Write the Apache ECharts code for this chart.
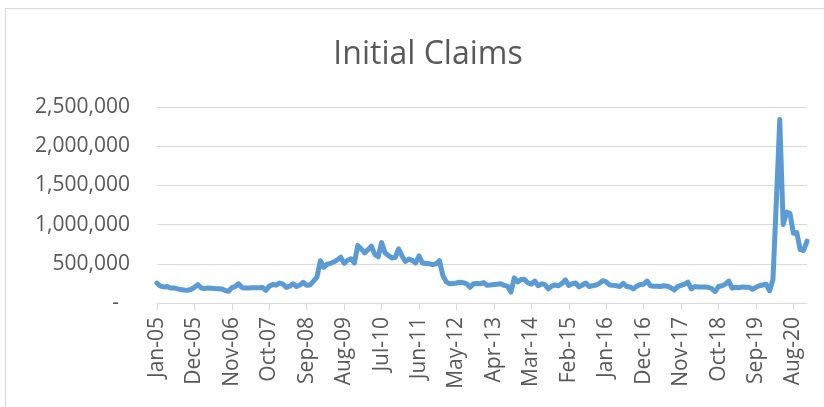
<!DOCTYPE html>
<html>
<head>
    <meta charset="utf-8">
    <title>Initial Claims</title>
    <script src="https://cdn.jsdelivr.net/npm/echarts@6/dist/echarts.min.js"></script>
    <style>
        html, body { margin: 0; padding: 0; background: #fff; }
        #frame { position: absolute; left: 5px; top: 8px; width: 830px; height: 410px; border: 1px solid #d9d9d9; }
        #chart { position: absolute; left: 0; top: 0; width: 824px; height: 407px; }
    </style>
</head>
<body>
<div id="frame"></div>
<div id="chart"></div>
<script type="text/javascript">
    // monthly values, thousands
    var y2005 = [254, 215, 205, 210, 190, 192, 180, 172, 165, 162, 175, 200];
    var y2006 = [235, 190, 185, 190, 188, 185, 183, 180, 160, 150, 195, 210];
    var y2007 = [245, 195, 192, 192, 195, 195, 195, 198, 162, 215, 235, 228];
    var y2008 = [255, 240, 200, 215, 245, 210, 230, 265, 225, 230, 280, 330];
    var y2009 = [540, 455, 495, 505, 525, 550, 585, 505, 545, 565, 510, 735];
    var y2010 = [690, 640, 680, 725, 620, 590, 770, 640, 605, 575, 580, 690];
    var y2011 = [600, 530, 560, 545, 510, 600, 510, 505, 500, 490, 500, 540];
    var y2012 = [350, 270, 245, 250, 255, 265, 260, 245, 200, 245, 250, 245];
    var y2013 = [260, 225, 230, 235, 240, 245, 225, 215, 140, 320, 270, 300];
    var y2014 = [300, 255, 240, 280, 220, 245, 235, 180, 215, 230, 220, 250];
    var y2015 = [295, 225, 245, 255, 205, 230, 255, 210, 220, 230, 250, 285];
    var y2016 = [270, 230, 225, 220, 210, 250, 210, 205, 180, 215, 235, 240];
    var y2017 = [280, 220, 215, 215, 210, 220, 215, 195, 165, 210, 225, 240];
    var y2018 = [265, 180, 210, 205, 205, 205, 200, 185, 145, 210, 220, 240];
    var y2019 = [280, 190, 200, 195, 205, 200, 200, 175, 200, 220, 230, 240];
    var y2020 = [155, 300, 1300, 2340, 1000, 1160, 1140, 890, 900, 680, 670, 790];

    var monthNames = ['Jan', 'Feb', 'Mar', 'Apr', 'May', 'Jun', 'Jul', 'Aug', 'Sep', 'Oct', 'Nov', 'Dec'];
    var years = ['05', '06', '07', '08', '09', '10', '11', '12', '13', '14', '15', '16', '17', '18', '19', '20'];
    var yearData = [y2005, y2006, y2007, y2008, y2009, y2010, y2011, y2012,
                    y2013, y2014, y2015, y2016, y2017, y2018, y2019, y2020];

    var categories = [];
    var claims = [];
    for (var i = 0; i < years.length; i++) {
        for (var j = 0; j < 12; j++) {
            categories.push(monthNames[j] + '-' + years[i]);
            claims.push(yearData[i][j] * 1000);
        }
    }

    var myChart = echarts.init(document.getElementById('chart'));
    myChart.setOption({
        animation: false,
        title: {
            text: 'Initial Claims',
            left: 423,
            textAlign: 'center',
            top: 34,
            textStyle: {
                fontFamily: 'Open Sans',
                fontSize: 32,
                fontWeight: 'normal',
                color: '#595959'
            }
        },
        grid: {
            left: 157,
            right: 17,
            top: 107,
            bottom: 104
        },
        xAxis: {
            type: 'category',
            data: categories,
            boundaryGap: false,
            axisLine: { lineStyle: { color: '#d9d9d9', width: 1 } },
            axisTick: { show: true, interval: 10, length: 7, lineStyle: { color: '#d9d9d9' } },
            axisLabel: {
                interval: 10,
                rotate: 90,
                margin: 14,
                color: '#595959',
                fontFamily: 'Open Sans',
                fontSize: 21
            },
            splitLine: { show: false }
        },
        yAxis: {
            type: 'value',
            min: 0,
            max: 2500000,
            interval: 500000,
            axisLine: { show: false },
            axisTick: { show: false },
            axisLabel: {
                margin: 27,
                color: '#595959',
                fontFamily: 'Open Sans',
                fontSize: 21,
                formatter: function (v) {
                    return v === 0 ? '-  ' : v.toLocaleString('en-US');
                }
            },
            splitLine: { lineStyle: { color: '#d9d9d9', width: 1 } }
        },
        series: [
            {
                name: 'Initial Claims',
                type: 'line',
                data: claims,
                showSymbol: false,
                symbol: 'none',
                lineStyle: { color: '#5b9bd5', width: 5, join: 'round', cap: 'round' }
            }
        ]
    });
</script>
</body>
</html>
